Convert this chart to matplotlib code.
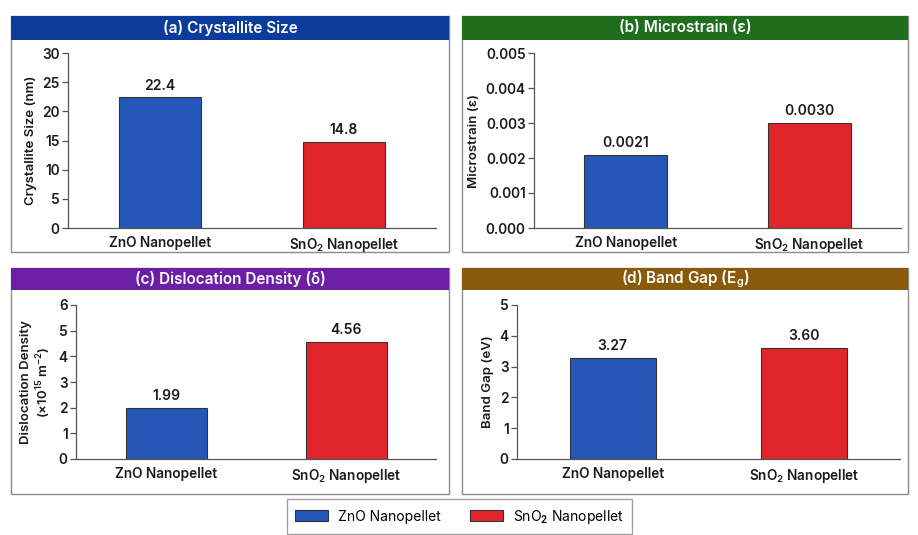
import matplotlib
matplotlib.use("Agg")
import matplotlib.pyplot as plt
from matplotlib.patches import Rectangle, Patch

plt.rcParams['font.family'] = ['Inter', 'DejaVu Sans']
plt.rcParams['font.weight'] = 'semibold'
plt.rcParams['axes.labelweight'] = 'semibold'
plt.rcParams['mathtext.fontset'] = 'custom'
plt.rcParams['mathtext.rm'] = 'Inter:semibold'
plt.rcParams['mathtext.it'] = 'Inter:semibold'

# данные
categories = ['ZnO Nanopellet', 'SnO$_2$ Nanopellet']
crystallite_size = [22.4, 14.8]
microstrain = [0.0021, 0.0030]
dislocation = [1.99, 4.56]
band_gap = [3.27, 3.60]

crystallite_labels = ['22.4', '14.8']
microstrain_labels = ['0.0021', '0.0030']
dislocation_labels = ['1.99', '4.56']
band_gap_labels = ['3.27', '3.60']

blue = '#2457b8'
red = '#e0262b'

W, H = 918, 535
fig = plt.figure(figsize=(W / 100, H / 100), dpi=100)


def px_rect(x0, y0, x1, y1):
    # пиксели -> доли фигуры
    return [x0 / W, 1 - y1 / H, (x1 - x0) / W, (y1 - y0) / H]


def panel(box, bar_h, color, title, ax_px, values, labels, ylabel, ylim, yticks, fmt, offset):
    x0, y0, x1, y1 = box
    fig.patches.append(Rectangle((x0 / W, 1 - y1 / H), (x1 - x0) / W, (y1 - y0) / H,
                                 transform=fig.transFigure, facecolor='white',
                                 edgecolor='#8a8a8a', linewidth=1.0, zorder=0))
    fig.patches.append(Rectangle((x0 / W, 1 - (y0 + bar_h) / H), (x1 - x0) / W, bar_h / H,
                                 transform=fig.transFigure, facecolor=color,
                                 edgecolor='none', zorder=1))
    fig.text((x0 + x1) / 2 / W, 1 - (y0 + bar_h / 2) / H, title, color='white',
             fontsize=11, ha='center', va='center')

    ax = fig.add_axes(px_rect(*ax_px))
    ax.set_zorder(3)
    ax.set_facecolor('none')
    xs = [0, 1]
    ax.bar(xs, values, width=0.45, color=[blue, red], edgecolor='#333333', linewidth=0.8)
    for x, v, lab in zip(xs, values, labels):
        ax.text(x, v + offset, lab, ha='center', va='bottom', fontsize=10, color='#1a1a1a')
    ax.set_xlim(-0.5, 1.5)
    ax.set_ylim(*ylim)
    ax.set_yticks(yticks)
    ax.set_yticklabels([fmt.format(t) for t in yticks], fontsize=9.8, color='#1a1a1a')
    ax.set_xticks(xs)
    ax.set_xticklabels(categories, fontsize=9.8, color='#1a1a1a')
    ax.tick_params(axis='x', length=0, pad=6)
    ax.tick_params(axis='y', length=4, width=0.9, color='#555555', pad=2)
    ax.set_ylabel(ylabel, fontsize=9.5, color='#1a1a1a', labelpad=4)
    for s in ['top', 'right']:
        ax.spines[s].set_visible(False)
    for s in ['left', 'bottom']:
        ax.spines[s].set_color('#555555')
        ax.spines[s].set_linewidth(0.9)
    return ax


panel((11, 16, 449, 252), 24, '#0b3c9c', '(a) Crystallite Size', (68, 53, 436, 228),
      crystallite_size, crystallite_labels, 'Crystallite Size (nm)',
      (0, 30), [0, 5, 10, 15, 20, 25, 30], '{:g}', 0.8)

panel((462, 16, 908, 252), 24, '#1e6e1e', '(b) Microstrain (ε)', (534, 53, 901, 228),
      microstrain, microstrain_labels, 'Microstrain (ε)',
      (0, 0.005), [0, 0.001, 0.002, 0.003, 0.004, 0.005], '{:.3f}', 0.00013)

panel((11, 268, 449, 494), 22, '#6b1fa6', '(c) Dislocation Density (δ)', (76, 305, 436, 459),
      dislocation, dislocation_labels, 'Dislocation Density\n(×10$^{15}$ m$^{-2}$)',
      (0, 6), [0, 1, 2, 3, 4, 5, 6], '{:g}', 0.2)

panel((462, 268, 908, 494), 22, '#8a5a0c', '(d) Band Gap (E$_g$)', (517, 305, 900, 459),
      band_gap, band_gap_labels, 'Band Gap (eV)',
      (0, 5), [0, 1, 2, 3, 4, 5], '{:g}', 0.17)

# общая легенда
handles = [Patch(facecolor=blue, edgecolor='#333333', linewidth=0.8),
           Patch(facecolor=red, edgecolor='#333333', linewidth=0.8)]
leg = fig.legend(handles, ['ZnO Nanopellet', 'SnO$_2$ Nanopellet'], loc='center',
                 bbox_to_anchor=(459.5 / W, 1 - 516.5 / H), ncol=2, fontsize=10,
                 frameon=True, fancybox=False, handlelength=2.4, handleheight=0.9,
                 handletextpad=0.7, columnspacing=2.1, borderpad=0.6)
leg.get_frame().set_edgecolor('#8a8a8a')
leg.get_frame().set_linewidth(1.0)
for t in leg.get_texts():
    t.set_fontweight('normal')

fig.savefig('out.png', dpi=100, facecolor='white')
